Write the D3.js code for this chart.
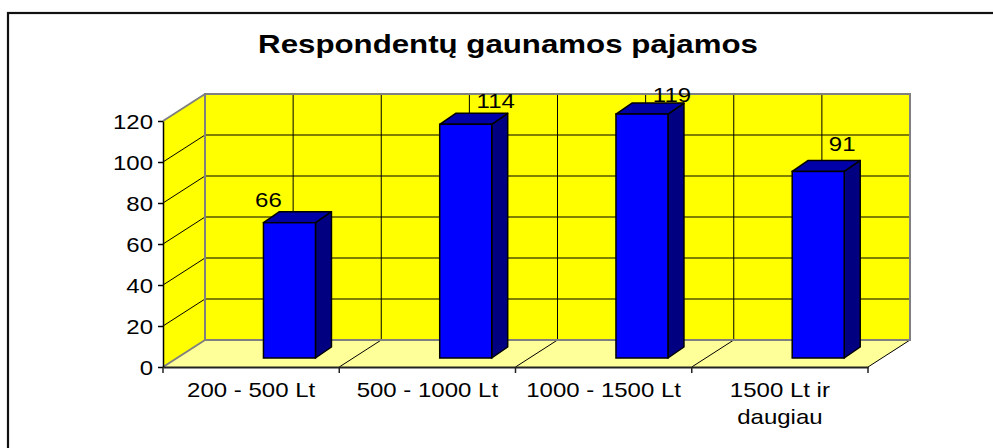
<!DOCTYPE html>
<html>
<head>
<meta charset="utf-8">
<script src="https://cdn.jsdelivr.net/npm/d3@7/dist/d3.min.js"></script>
<style>
  html, body { margin: 0; padding: 0; background: #fff; }
  svg { display: block; }
  text { font-family: "Liberation Sans", Arial, sans-serif; fill: #000; }
</style>
</head>
<body>
<svg id="chart" width="993" height="448"></svg>
<script>
// ---------- data ----------
const title = "Respondentų gaunamos pajamos";
const categories = ["200 - 500 Lt", "500 - 1000 Lt", "1000 - 1500 Lt", "1500 Lt ir daugiau"];
const values = [66, 114, 119, 91];
const yTicks = [0, 20, 40, 60, 80, 100, 120];

// ---------- layout ----------
const W = 993, H = 448;
const pLeft = 163, pRight = 868, pBottom = 367, pTop = 121;
const DX = 42, DY = -27;             // wall depth
const BDX = 16, BDY = -11;           // bar depth
const textSX = 1.2;                  // horizontal stretch of the original text
const labelNudgeX = [-51, 0, 0, -6]; // Excel's label placement quirks
const labelNudgeY = [0, 0, 4, -4];

const svg = d3.select("#chart");

// frame
svg.append("rect").attr("x", 8).attr("y", 13).attr("width", W + 10).attr("height", H + 10)
  .attr("fill", "#fff").attr("stroke", "#111").attr("stroke-width", 2.2);

// title
svg.append("text")
  .attr("transform", `translate(508,53) scale(1.25,1)`)
  .attr("text-anchor", "middle")
  .style("font-size", "25px").style("font-weight", "bold")
  .text(title);

const x = d3.scaleBand().domain(categories).range([pLeft, pRight]).padding(0);
const y = d3.scaleLinear().domain([0, 120]).range([pBottom, pTop]);
const bw = x.bandwidth();

const g = svg.append("g");

// back wall
g.append("rect").attr("x", pLeft + DX).attr("y", pTop + DY)
  .attr("width", pRight - pLeft).attr("height", pBottom - pTop)
  .attr("fill", "#FFFF00");
// side wall
g.append("polygon")
  .attr("points", [[pLeft, pTop], [pLeft + DX, pTop + DY], [pLeft + DX, pBottom + DY], [pLeft, pBottom]].join(" "))
  .attr("fill", "#FFFF00");
// floor
g.append("polygon")
  .attr("points", [[pLeft, pBottom], [pLeft + DX, pBottom + DY], [pRight + DX, pBottom + DY], [pRight, pBottom]].join(" "))
  .attr("fill", "#FFFF99");

// horizontal gridlines on back wall + diagonals on side wall
yTicks.forEach(t => {
  if (t !== 0 && t !== 120) {
    g.append("line").attr("x1", pLeft + DX).attr("x2", pRight + DX)
      .attr("y1", y(t) + DY).attr("y2", y(t) + DY)
      .attr("stroke", "#000").attr("stroke-width", 1);
  }
  if (t !== 0) {
    g.append("line").attr("x1", pLeft).attr("y1", y(t))
      .attr("x2", pLeft + DX).attr("y2", y(t) + DY)
      .attr("stroke", t === 120 ? "#808080" : "#000").attr("stroke-width", t === 120 ? 2 : 1);
  }
});

// vertical gridlines on back wall (every half category)
d3.range(1, categories.length * 2).forEach(k => {
  const xx = pLeft + k * bw / 2 + DX;
  g.append("line").attr("x1", xx).attr("x2", xx)
    .attr("y1", pTop + DY).attr("y2", pBottom + DY)
    .attr("stroke", "#000").attr("stroke-width", 1);
});

// floor diagonals at category boundaries
const bounds = categories.map(c => x(c)).concat([pRight]);
bounds.forEach((bx, i) => {
  g.append("line").attr("x1", bx).attr("y1", pBottom)
    .attr("x2", bx + DX).attr("y2", pBottom + DY)
    .attr("stroke", i === 0 ? "#808080" : "#000").attr("stroke-width", i === 0 ? 2 : 1);
});

// wall outlines (gray)
g.append("polyline")
  .attr("points", [[pLeft + DX, pBottom + DY], [pLeft + DX, pTop + DY], [pRight + DX, pTop + DY], [pRight + DX, pBottom + DY], [pLeft + DX, pBottom + DY]].join(" "))
  .attr("fill", "none").attr("stroke", "#808080").attr("stroke-width", 2);

// bars
const barW = bw * 0.295;
const barBase = y(0) + DY / 3;
const bars = g.selectAll("g.bar").data(values).join("g").attr("class", "bar");
bars.each(function (v, i) {
  const bx = x(categories[i]) + bw * 0.57;
  const ty = y(v) + DY / 3;
  const sel = d3.select(this);
  sel.append("polygon")
    .attr("points", [[bx + barW, ty], [bx + barW + BDX, ty + BDY], [bx + barW + BDX, barBase + BDY], [bx + barW, barBase]].join(" "))
    .attr("fill", "#000080").attr("stroke", "#000").attr("stroke-width", 1.5).attr("stroke-linejoin", "round");
  sel.append("polygon")
    .attr("points", [[bx, ty], [bx + BDX, ty + BDY], [bx + barW + BDX, ty + BDY], [bx + barW, ty]].join(" "))
    .attr("fill", "#0000A8").attr("stroke", "#000").attr("stroke-width", 1.5).attr("stroke-linejoin", "round");
  sel.append("rect").attr("x", bx).attr("y", ty).attr("width", barW).attr("height", barBase - ty)
    .attr("fill", "#0000FF").attr("stroke", "#000").attr("stroke-width", 1.5);
  // value label
  sel.append("text")
    .attr("transform", `translate(${bx + 56 + labelNudgeX[i]},${ty - 16 + labelNudgeY[i]}) scale(${textSX},1)`)
    .attr("text-anchor", "middle").style("font-size", "20px")
    .text(v);
});

// y axis
const yAxis = svg.append("g").attr("transform", `translate(${pLeft},0)`)
  .call(d3.axisLeft(y).tickValues(yTicks).tickSize(5).tickSizeOuter(0).tickPadding(0));
yAxis.select(".domain").attr("stroke", "#000").attr("stroke-width", 1.5);
yAxis.selectAll(".tick line").attr("stroke", "#000").attr("stroke-width", 1.5);
yAxis.selectAll(".tick text")
  .attr("x", -10 / textSX).attr("dy", "0.36em")
  .attr("transform", `scale(${textSX},1)`)
  .style("font-size", "20px").style("font-family", "'Liberation Sans', Arial, sans-serif")
  .attr("fill", "#000");

// x axis
const xAxis = svg.append("g").attr("transform", `translate(0,${pBottom})`)
  .call(d3.axisBottom(x).tickSize(0).tickSizeOuter(0).tickPadding(0));
xAxis.select(".domain").attr("stroke", "#222").attr("stroke-width", 2);
xAxis.selectAll(".tick text").remove();
bounds.forEach(bx => {
  xAxis.append("line").attr("x1", bx).attr("x2", bx).attr("y1", 0).attr("y2", 6)
    .attr("stroke", "#222").attr("stroke-width", 1.5);
});
// category labels with wrapping
xAxis.selectAll(".tick").each(function (c) {
  const t = d3.select(this).append("text")
    .attr("text-anchor", "middle")
    .attr("transform", `translate(0,30) scale(${textSX},1)`)
    .style("font-size", "20px").style("font-family", "'Liberation Sans', Arial, sans-serif")
    .attr("fill", "#000");
  const words = c.split(" ");
  let line = [], lines = [];
  const probe = t.append("tspan");
  words.forEach(w => {
    const tryLine = line.concat([w]).join(" ");
    probe.text(tryLine);
    if (probe.node().getComputedTextLength() * textSX > bw - 6 && line.length) {
      lines.push(line.join(" "));
      line = [w];
    } else line.push(w);
  });
  lines.push(line.join(" "));
  probe.remove();
  lines.forEach((l, k) => t.append("tspan").attr("x", 0).attr("dy", k === 0 ? 0 : 27).text(l));
});
</script>
</body>
</html>
